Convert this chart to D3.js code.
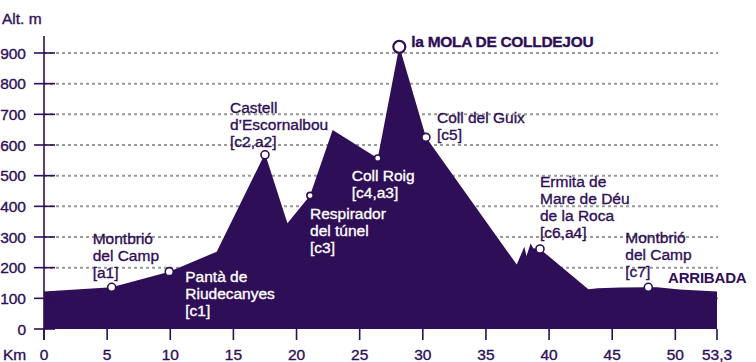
<!DOCTYPE html>
<html>
<head>
<meta charset="utf-8">
<script src="https://cdn.jsdelivr.net/npm/d3@7.9.0/dist/d3.min.js"></script>
<style>
  body { margin: 0; background: #fff; }
  svg { display: block; font-family: "Liberation Sans", Arial, sans-serif; }
</style>
</head>
<body>
<svg id="chart" width="756" height="362"></svg>
<script>
// profile: distance (km) and altitude (m)
const profileKm  = [0, 5.36, 9.92, 13.68, 17.5, 19.28, 21.07, 22.86, 26.43, 28.14, 30.25, 37.44, 38.04, 38.21, 38.54, 38.75, 39.28, 43.11, 43.87, 45.62, 47.86, 48.55, 50.37, 53.3];
const profileAlt = [122, 136, 187, 252, 572, 345, 435, 649, 557, 922, 625, 210, 268, 238, 279, 263, 261, 130, 133, 135, 136, 136, 129, 122];

// waypoints
const pointNames = [
  ['Montbrió', 'del Camp', '[a1]'],
  ['Pantà de', 'Riudecanyes', '[c1]'],
  ['Castell', 'd\u2019Escornalbou', '[c2,a2]'],
  ['Respirador', 'del túnel', '[c3]'],
  ['Coll Roig', '[c4,a3]'],
  ['la MOLA DE COLLDEJOU'],
  ['Coll del Guix', '[c5]'],
  ['Ermita de', 'Mare de Déu', 'de la Roca', '[c6,a4]'],
  ['Montbrió', 'del Camp', '[c7]']
];
const pointKm  = [5.36, 9.92, 17.5, 21.07, 26.43, 28.14, 30.25, 39.28, 47.86];
const pointAlt = [136, 187, 568, 435, 557, 920, 625, 261, 136];

const yTicks = [0, 100, 200, 300, 400, 500, 600, 700, 800, 900];
const xTicks = [0, 5, 10, 15, 20, 25, 30, 35, 40, 45, 50, 53.3];
const xTickLabels = ['0', '5', '10', '15', '20', '25', '30', '35', '40', '45', '50', '53,3'];

// label layout relative to each waypoint (px)
const labelLayout = [
  { dx: -19, dy: -43, fill: 'ink', r: 4 },
  { dx: 16, dy: 10, fill: 'white', r: 4 },
  { dx: -35, dy: -42, fill: 'ink', r: 4 },
  { dx: 0, dy: 23, fill: 'white', r: 3.2 },
  { dx: -26, dy: 23, fill: 'white', r: 3.2 },
  { dx: 12, dy: 0, fill: 'ink', r: 6, bold: true },
  { dx: 11, dy: -14, fill: 'ink', r: 4 },
  { dx: 0, dy: -62, fill: 'ink', r: 4 },
  { dx: -23, dy: -44, fill: 'ink', r: 4 }
];

const ink = '#2e0e56';
const svg = d3.select('#chart');

const x = d3.scaleLinear().domain([0, 53.3]).range([44, 717]);
const y = d3.scaleLinear().domain([0, 900]).range([329, 53]);

// slightly heavier text, like the print original
function heavy(sel, colour) {
  return sel.attr('stroke', colour).attr('stroke-width', 0.35);
}

// dotted grid
svg.append('g')
  .selectAll('line')
  .data(yTicks.filter(d => d > 0))
  .join('line')
  .attr('x1', x(0)).attr('x2', x(53.3) + 1)
  .attr('y1', d => y(d)).attr('y2', d => y(d))
  .attr('stroke', '#999')
  .attr('stroke-width', 2)
  .attr('stroke-dasharray', '3,3');

// profile area
const profile = profileKm.map((km, i) => ({ km, alt: profileAlt[i] }));
const area = d3.area()
  .x(d => x(d.km))
  .y0(y(0))
  .y1(d => y(d.alt));
svg.append('path')
  .datum(profile)
  .attr('d', area)
  .attr('fill', ink);

// y axis
svg.append('line')
  .attr('x1', x(0)).attr('x2', x(0))
  .attr('y1', y(900) - 17).attr('y2', y(0) + 11)
  .attr('stroke', ink).attr('stroke-width', 1.6);

const yAxis = svg.append('g');
yAxis.selectAll('line')
  .data(yTicks)
  .join('line')
  .attr('x1', x(0) - 10).attr('x2', x(0) + 11)
  .attr('y1', d => y(d)).attr('y2', d => y(d))
  .attr('stroke', ink).attr('stroke-width', 1.6);
yAxis.selectAll('text')
  .data(yTicks)
  .join('text')
  .attr('x', x(0) - 18)
  .attr('y', d => y(d))
  .attr('dy', '0.36em')
  .attr('text-anchor', 'end')
  .attr('font-size', 15.5)
  .attr('fill', ink)
  .call(heavy, ink)
  .text(d => d);

// x axis
const xAxis = svg.append('g');
xAxis.selectAll('line')
  .data(xTicks)
  .join('line')
  .attr('x1', d => x(d)).attr('x2', d => x(d))
  .attr('y1', y(0)).attr('y2', y(0) + 11)
  .attr('stroke', ink).attr('stroke-width', 1.6);
xAxis.selectAll('text')
  .data(xTicks)
  .join('text')
  .attr('x', d => x(d))
  .attr('y', 360)
  .attr('text-anchor', 'middle')
  .attr('font-size', 15.5)
  .attr('fill', ink)
  .call(heavy, ink)
  .text((d, i) => xTickLabels[i]);

svg.append('text')
  .attr('x', 3).attr('y', 360)
  .attr('font-size', 15.5).attr('fill', ink)
  .call(heavy, ink)
  .text('Km');
svg.append('text')
  .attr('x', 2).attr('y', 24)
  .attr('font-size', 15.5).attr('fill', ink)
  .call(heavy, ink)
  .text('Alt. m');

// waypoints and labels
pointKm.forEach((km, i) => {
  const px = x(km), py = y(pointAlt[i]);
  const lay = labelLayout[i];
  const colour = lay.fill === 'white' ? '#fff' : ink;
  svg.append('circle')
    .attr('cx', px).attr('cy', py)
    .attr('r', lay.r)
    .attr('fill', '#fff')
    .attr('stroke', ink)
    .attr('stroke-width', lay.bold ? 2.2 : 1.6);

  const t = svg.append('text')
    .attr('x', px + lay.dx)
    .attr('y', py + lay.dy)
    .attr('font-size', 15.5)
    .attr('font-weight', lay.bold ? 'bold' : 'normal')
    .attr('letter-spacing', lay.bold ? -0.3 : 0)
    .attr('fill', colour)
    .call(heavy, colour);
  pointNames[i].forEach((line, j) => {
    t.append('tspan')
      .attr('x', px + lay.dx)
      .attr('dy', j === 0 ? 0 : 17)
      .text(line);
  });
});

// finish label
svg.append('text')
  .attr('x', x(53.3) - 49)
  .attr('y', y(profileAlt[profileAlt.length - 1]) - 8.5)
  .attr('font-size', 15)
  .attr('font-weight', 'bold')
  .attr('letter-spacing', -0.2)
  .attr('fill', ink)
  .text('ARRIBADA');
</script>
</body>
</html>
